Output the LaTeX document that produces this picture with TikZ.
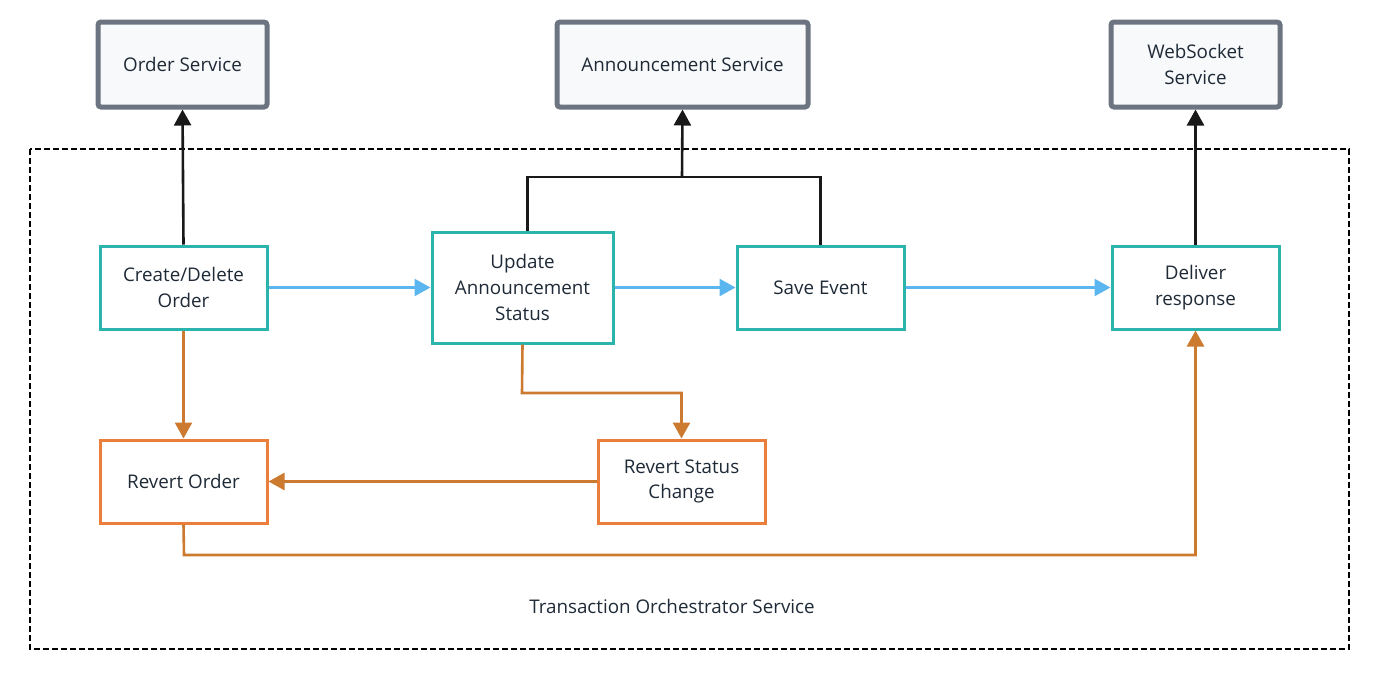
\documentclass[tikz,border=0pt]{standalone}
\usepackage{fontspec}
\setmainfont{Open Sans}
\usetikzlibrary{arrows.meta}
\definecolor{txt}{HTML}{1F2A37}
\definecolor{svcborder}{HTML}{6B7480}
\definecolor{svcfill}{HTML}{F8F9FB}
\definecolor{teal}{HTML}{2BB3AE}
\definecolor{orangebox}{HTML}{EA7E3A}
\definecolor{orangeline}{HTML}{CB7A2F}
\definecolor{blueline}{HTML}{5BB6F0}
\tikzset{
  lab/.style={text=txt, align=center, font=\fontsize{9.4}{12.8}\selectfont, inner sep=0pt},
  svc/.style={lab, draw=svcborder, fill=svcfill, line width=2.5pt, rounded corners=1.5pt},
  tbox/.style={lab, draw=teal, fill=white, line width=1.5pt},
  obox/.style={lab, draw=orangebox, fill=white, line width=1.5pt},
  tip/.style={-{Triangle[length=8pt,width=8.5pt]}},
  blk/.style={tip, draw=black!90, line width=1.3pt},
  blu/.style={tip, draw=blueline, line width=1.3pt},
  org/.style={tip, draw=orangeline, line width=1.3pt},
}
\begin{document}
\begin{tikzpicture}[x=0.5pt,y=-0.5pt]
\useasboundingbox (0,0) rectangle (1387,676);
% container
\draw[black, line width=1pt, dash pattern=on 3pt off 1.5pt] (30,149) rectangle (1349,649);
\node[lab] (lbl) at (672,606) {Transaction Orchestrator Service};
% services
\node[svc, minimum width=84.5pt, minimum height=42.5pt] (os) at (182.5,64.5) {Order Service};
\node[svc, minimum width=125.5pt, minimum height=42.5pt] (as) at (682.5,64.5) {Announcement Service};
\node[svc, minimum width=84.5pt, minimum height=42.5pt] (ws) at (1195.5,64.5) {WebSocket\\Service};
% teal boxes
\node[tbox, minimum width=83.5pt, minimum height=41.5pt] (cd) at (183.5,287.5) {Create/Delete\\Order};
\node[tbox, minimum width=90.5pt, minimum height=55.5pt] (ua) at (522.5,287.5) {Update\\Announcement\\Status};
\node[tbox, minimum width=83.5pt, minimum height=41.5pt] (se) at (820.5,287.5) {Save Event};
\node[tbox, minimum width=83.5pt, minimum height=41.5pt] (dr) at (1195.5,287.5) {Deliver\\response};
% orange boxes
\node[obox, minimum width=83.5pt, minimum height=41.5pt] (ro) at (183.5,481.5) {Revert Order};
\node[obox, minimum width=83.5pt, minimum height=41.5pt] (rs) at (681.5,481.5) {Revert Status\\Change};
% black connectors
\draw[blk] (cd.north) -- (os.south);
\coordinate (jn) at (682,177);
\draw[draw=black!90, line width=1.3pt] ([xshift=2.5pt]ua.north) |- (jn) -| (se.north);
\draw[blk] (jn) -- (as.south);
\draw[blk] (dr.north) -- (ws.south);
% blue connectors
\draw[blu] (cd.east) -- (ua.west);
\draw[blu] (ua.east) -- (se.west);
\draw[blu] (se.east) -- (dr.west);
% orange connectors
\draw[org] (cd.south) -- (ro.north);
\coordinate (k1) at (522,393);
\draw[org] (ua.south) -- (k1) -| (rs.north);
\draw[org] (rs.west) -- (ro.east);
\coordinate (k2) at (184,555);
\draw[org] (ro.south) -- (k2) -| (dr.south);
\end{tikzpicture}
\end{document}
